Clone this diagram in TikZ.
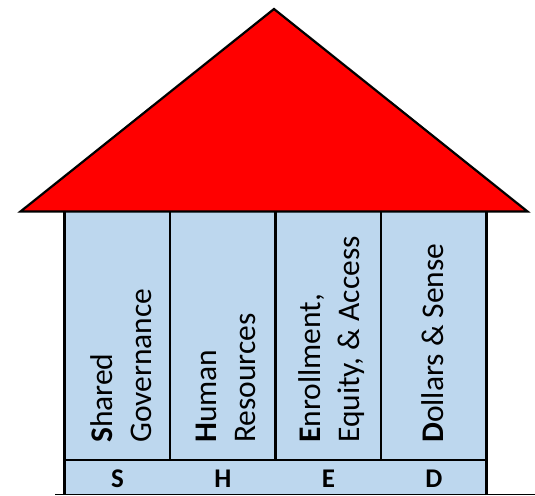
\documentclass[tikz,border=0pt]{standalone}
\usepackage{fontspec}
\setmainfont{Carlito}
\definecolor{pillarblue}{RGB}{189,215,238}
\definecolor{roofred}{RGB}{255,0,0}
\definecolor{baseline}{RGB}{60,180,100}
\begin{document}
\begin{tikzpicture}[x=1pt,y=-1pt,
  pillartext/.style={rotate=90,anchor=west,align=left,inner sep=0pt,
    font=\fontsize{31.5}{39}\selectfont},
  lettertext/.style={inner sep=0pt,font=\fontsize{27}{30}\selectfont\bfseries},
  edge/.style={draw=black,line width=2.2pt}]
\useasboundingbox (0,0) rectangle (535,495);
% pillars background
\fill[pillarblue] (64.5,211.5) rectangle (486.5,495);
% green ground line
\draw[baseline,line width=1.2pt] (55,494.4) -- (535,494.4);
% pillar borders
\coordinate (bl) at (64.5,495);
\coordinate (br) at (486.5,495);
\coordinate (tl) at (64.5,211.5);
\coordinate (tr) at (486.5,211.5);
\draw[edge] (bl) -- (tl);
\draw[edge] (br) -- (tr);
\draw[edge] (64.5,460) -- (486.5,460);
\foreach \x in {170,275.5,381}{\draw[edge] (\x,211.5) -- (\x,460);}
% roof
\coordinate (rl) at (20.5,211.5);
\coordinate (ra) at (274,9);
\coordinate (rr) at (527.5,211.5);
\draw[edge,fill=roofred,line join=miter] (rl) -- (ra) -- (rr) -- cycle;
% pillar texts
\node[pillartext] (p1) at (121,443) {\textbf{S}hared\\ Governance};
\node[pillartext] (p2) at (226,443) {\textbf{H}uman\\ Resources};
\node[pillartext] (p3) at (331.5,443) {\textbf{E}nrollment,\\ Equity, \& Access};
\node[pillartext] (p4) at (433,443) {\textbf{D}ollars \& Sense};
% letters
\node[lettertext] (s) at (117.5,479) {S};
\node[lettertext] (h) at (223,479) {H};
\node[lettertext] (e) at (328.5,479) {E};
\node[lettertext] (d) at (434,479) {D};
\end{tikzpicture}
\end{document}
